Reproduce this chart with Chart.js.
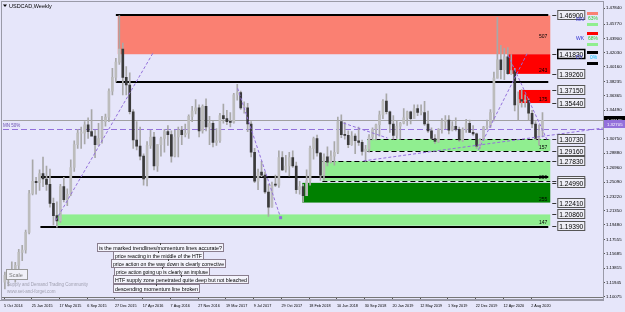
<!DOCTYPE html>
<html>
<head>
<meta charset="utf-8">
<script src="https://cdn.jsdelivr.net/npm/chart.js@4.4.1/dist/chart.umd.min.js"></script>
<style>
  html, body { margin: 0; padding: 0; background: #e6e6fa; }
  canvas { display: block; }
</style>
</head>
<body>
<canvas id="chart" width="625" height="312"></canvas>
<script>
// USDCAD weekly, two-week candles starting 5 Oct 2014
const opens = [
  1.1200,1.1290,1.1270,1.1320,1.1420,1.1590,1.1620,1.1850,1.2360,1.2520,
  1.2500,1.2620,1.2550,1.2480,1.2230,1.2070,1.2000,1.2450,1.2280,1.2350,
  1.2700,1.3000,1.3150,1.3150,1.3260,1.3170,1.3110,1.3000,1.3080,1.3300,
  1.3360,1.3700,1.3880,1.4080,1.4250,1.3880,1.3780,1.3430,1.3060,1.2980,
  1.2850,1.2550,1.2990,1.3100,1.2720,1.3000,1.3080,1.3170,1.3130,1.2850,
  1.3100,1.3190,1.3130,1.3150,1.3370,1.3440,1.3480,1.3180,1.3500,1.3230,
  1.3280,1.3030,1.3050,1.3380,1.3340,1.3300,1.3290,1.3650,1.3680,1.3480,
  1.3480,1.3270,1.2900,1.2520,1.2640,1.2600,1.2380,1.2180,1.2480,1.2470,
  1.2830,1.2670,1.2720,1.2830,1.2720,1.2410,1.2450,1.2330,1.2530,1.2950,
  1.3080,1.2890,1.2600,1.2840,1.2770,1.2850,1.2900,1.3300,1.3130,1.3120,
  1.3000,1.3110,1.3050,1.3030,1.2910,1.2940,1.3100,1.3200,1.3260,1.3390,
  1.3570,1.3430,1.3270,1.3120,1.3240,1.3280,1.3350,1.3430,1.3340,1.3470,
  1.3420,1.3420,1.3270,1.3180,1.3080,1.3040,1.3200,1.3300,1.3320,1.3190,
  1.3240,1.3200,1.3060,1.3200,1.3280,1.3160,1.3140,1.2980,1.3060,1.3230,
  1.3240,1.3420,1.3870,1.4110,1.3980,1.4150,1.3930,1.3970,1.3520,1.3590,
  1.3570,1.3580,1.3410,1.3270,1.3080,1.3180
];
const highs = [
  1.1330,1.1330,1.1465,1.1460,1.1630,1.1680,1.1880,1.2400,1.2800,1.2570,
  1.2670,1.2835,1.2720,1.2680,1.2300,1.2250,1.2480,1.2570,1.2420,1.2800,
  1.3050,1.3200,1.3230,1.3300,1.3350,1.3460,1.3190,1.3280,1.3370,1.3400,
  1.3730,1.4000,1.4130,1.4690,1.4330,1.4020,1.3940,1.3460,1.3300,1.3230,
  1.2880,1.3040,1.3190,1.3160,1.3000,1.3100,1.3200,1.3250,1.3180,1.3190,
  1.3230,1.3240,1.3270,1.3390,1.3500,1.3590,1.3520,1.3520,1.3600,1.3370,
  1.3300,1.3210,1.3410,1.3530,1.3450,1.3420,1.3670,1.3790,1.3700,1.3560,
  1.3540,1.3300,1.2950,1.2680,1.2780,1.2640,1.2480,1.2510,1.2600,1.2920,
  1.2910,1.2860,1.2900,1.2920,1.2770,1.2520,1.2480,1.2670,1.2980,1.3100,
  1.3125,1.2900,1.2880,1.2970,1.2920,1.3040,1.3360,1.3390,1.3290,1.3180,
  1.3170,1.3140,1.3230,1.3060,1.2990,1.3130,1.3220,1.3270,1.3440,1.3590,
  1.3665,1.3440,1.3380,1.3310,1.3290,1.3470,1.3440,1.3440,1.3520,1.3520,
  1.3520,1.3565,1.3440,1.3220,1.3130,1.3210,1.3340,1.3380,1.3380,1.3300,
  1.3350,1.3230,1.3220,1.3330,1.3320,1.3250,1.3150,1.3080,1.3240,1.3320,
  1.3460,1.3950,1.4667,1.4300,1.4260,1.4270,1.4180,1.4000,1.3690,1.3720,
  1.3650,1.3600,1.3450,1.3300,1.3260,1.3420
];
const lows = [
  1.1110,1.1150,1.1260,1.1200,1.1350,1.1480,1.1580,1.1830,1.2340,1.2350,
  1.2400,1.2450,1.2400,1.2180,1.1950,1.1920,1.1980,1.2250,1.2200,1.2330,
  1.2650,1.2950,1.2950,1.3010,1.3080,1.3150,1.2830,1.2990,1.3020,1.3240,
  1.3300,1.3650,1.3820,1.4050,1.3650,1.3650,1.3400,1.2950,1.2930,1.2800,
  1.2470,1.2460,1.2950,1.2670,1.2650,1.2850,1.2900,1.2990,1.2770,1.2840,
  1.2840,1.3000,1.3100,1.3080,1.3300,1.3400,1.3100,1.3150,1.3180,1.3000,
  1.2970,1.2990,1.3030,1.3280,1.3260,1.3230,1.3280,1.3580,1.3460,1.3410,
  1.3170,1.2840,1.2500,1.2410,1.2580,1.2360,1.2060,1.2180,1.2450,1.2440,
  1.2660,1.2640,1.2590,1.2700,1.2360,1.2350,1.2250,1.2330,1.2470,1.2810,
  1.2850,1.2530,1.2530,1.2720,1.2760,1.2730,1.2880,1.3090,1.3070,1.2960,
  1.2990,1.2880,1.2990,1.2860,1.2780,1.2900,1.3060,1.3060,1.3110,1.3340,
  1.3400,1.3160,1.3070,1.3080,1.3070,1.3270,1.3250,1.3270,1.3340,1.3380,
  1.3390,1.3250,1.3160,1.3070,1.3016,1.3030,1.3150,1.3210,1.3140,1.3180,
  1.3180,1.3040,1.3040,1.3160,1.3160,1.3120,1.2950,1.2950,1.3050,1.3200,
  1.3220,1.3310,1.3870,1.3860,1.3850,1.3920,1.3920,1.3440,1.3320,1.3490,
  1.3490,1.3320,1.3220,1.3060,1.2994,1.3100
];
const closes = [
  1.1290,1.1270,1.1320,1.1420,1.1590,1.1620,1.1850,1.2360,1.2520,1.2500,
  1.2620,1.2550,1.2480,1.2230,1.2070,1.2000,1.2450,1.2280,1.2350,1.2700,
  1.3000,1.3150,1.3150,1.3260,1.3170,1.3110,1.3000,1.3080,1.3300,1.3360,
  1.3700,1.3880,1.4080,1.4250,1.3880,1.3780,1.3430,1.3060,1.2980,1.2850,
  1.2550,1.2990,1.3100,1.2720,1.3000,1.3080,1.3170,1.3130,1.2850,1.3100,
  1.3190,1.3130,1.3150,1.3370,1.3440,1.3480,1.3180,1.3500,1.3230,1.3280,
  1.3030,1.3050,1.3380,1.3340,1.3300,1.3290,1.3650,1.3680,1.3480,1.3480,
  1.3270,1.2900,1.2520,1.2640,1.2600,1.2380,1.2180,1.2480,1.2470,1.2830,
  1.2670,1.2720,1.2830,1.2720,1.2410,1.2450,1.2330,1.2530,1.2950,1.3080,
  1.2890,1.2600,1.2840,1.2770,1.2850,1.2900,1.3300,1.3130,1.3120,1.3000,
  1.3110,1.3050,1.3030,1.2910,1.2940,1.3100,1.3200,1.3260,1.3390,1.3570,
  1.3430,1.3270,1.3120,1.3240,1.3280,1.3350,1.3430,1.3340,1.3470,1.3420,
  1.3420,1.3270,1.3180,1.3080,1.3040,1.3200,1.3300,1.3320,1.3190,1.3240,
  1.3200,1.3060,1.3200,1.3280,1.3160,1.3140,1.2980,1.3060,1.3230,1.3240,
  1.3420,1.3870,1.4110,1.3980,1.4150,1.3930,1.3970,1.3520,1.3590,1.3570,
  1.3580,1.3410,1.3270,1.3080,1.3180,1.33185
];

// time axis (weeks since 5 Oct 2014)
const xTickWeeks = [0,16,32,48,64,80,96,112,128,144,160,176,192,208,224,240,256,272,288,304];
const xTickLabels = ['5 Oct 2014','25 Jan 2015','17 May 2015','6 Sep 2015','27 Dec 2015','17 Apr 2016',
  '7 Aug 2016','27 Nov 2016','19 Mar 2017','9 Jul 2017','29 Oct 2017','18 Feb 2018','10 Jun 2018',
  '30 Sep 2018','20 Jan 2019','12 May 2019','1 Sep 2019','22 Dec 2019','12 Apr 2020','2 Aug 2020'];
const yTickLabels = ['1.47840','1.45770','1.43900','1.42030','1.40160','1.38235','1.36365','1.34490',
  '1.32620','1.30750','1.28880','1.26960','1.25090','1.23220','1.21350','1.19480','1.17555','1.15685',
  '1.13815','1.11945','1.10075'];

// supply / demand zones
const zoneScores = ['507','243','175','157','259','255','147'];
const zoneHigh = [1.46900,1.41830,1.37150,1.30730,1.27830,1.24990,1.20860];
const zoneLow  = [1.41830,1.39260,1.35440,1.29160,1.25260,1.22410,1.19390];
const zoneFromWeek = [65.6,290.7,297,209.6,183.6,172,30];
const zoneToWeek = 315;

// levels with price boxes at the right
const levelPrices = ['1.46900','1.41830','1.39260','1.37150','1.35440','1.30730','1.29160',
  '1.27830','1.25260','1.24990','1.22410','1.20860','1.19390'];
// plain horizontal lines
const hLinePrice = [1.46900,1.38170,1.25780,1.19260];
const hLineFromWeek = [64.5,64.5,21,21];
const dashedPrice = [1.30730,1.29160,1.27830,1.25260];
const dashedFromWeek = [209.6,209.6,183.6,183.6];

// trendlines (week, price)
const trendFrom = [[29.9,1.2009],[134.7,1.3738],[273.5,1.2930],[290.7,1.4168],[207.3,1.2787],[195.7,1.3282]];
const trendTo   = [[85.8,1.4195],[159.5,1.2043],[301.7,1.4195],[313.2,1.3060],[345.4,1.3217],[221.1,1.3086]];

const currentPrice = 1.33185;
const mn50Price = 1.3204;

const notes = ['is the marked trendlines/momentum lines accurate?','price reacting in the middle of the HTF',
  'price action on the way down is clearly corrective','price action going up is clearly an impluse',
  'HTF supply zone penetrated quite deep but not bleached','descending momentum line broken'];

const FONT = '"Liberation Sans", Arial, sans-serif';
const zoneColors = ['#fa8072','#ff0000','#ff0000','#90ee90','#90ee90','#008000','#90ee90'];
const notePos = [[97,248,126],[113,256,90],[111,264,114],[114,272,95],[113,280,135],[113,289,86]];

function fitText(ctx, text, x, y, width) {
  const w = ctx.measureText(text).width;
  ctx.save();
  ctx.translate(x, y);
  ctx.scale(width / w, 1);
  ctx.fillText(text, 0, 0);
  ctx.restore();
}

const objects = {
  id: 'objects',
  beforeDatasetsDraw(chart) {
    const { ctx, chartArea: a, scales: { x, y } } = chart;
    ctx.save();
    ctx.beginPath();
    ctx.rect(a.left, a.top, a.width, a.height);
    ctx.clip();

    // current price line
    const cy = Math.round(y.getPixelForValue(currentPrice)) + 0.5;
    ctx.strokeStyle = '#a0a0a0';
    ctx.lineWidth = 1;
    ctx.beginPath(); ctx.moveTo(a.left, cy); ctx.lineTo(a.right, cy); ctx.stroke();

    // zones
    const xEnd = x.getPixelForValue(zoneToWeek);
    zoneHigh.forEach((hi, i) => {
      const x0 = x.getPixelForValue(zoneFromWeek[i]);
      const y0 = y.getPixelForValue(hi), y1 = y.getPixelForValue(zoneLow[i]);
      ctx.fillStyle = zoneColors[i];
      ctx.fillRect(x0, y0, xEnd - x0, y1 - y0);
    });

    // dashed zone borders
    ctx.strokeStyle = '#000';
    ctx.setLineDash([5, 3]);
    dashedPrice.forEach((p, i) => {
      const py = Math.round(y.getPixelForValue(p)) + 0.5;
      ctx.beginPath(); ctx.moveTo(x.getPixelForValue(dashedFromWeek[i]), py); ctx.lineTo(xEnd, py); ctx.stroke();
    });
    ctx.setLineDash([]);

    // solid levels
    ctx.lineWidth = 2;
    hLinePrice.forEach((p, i) => {
      const py = Math.round(y.getPixelForValue(p));
      ctx.beginPath(); ctx.moveTo(x.getPixelForValue(hLineFromWeek[i]), py); ctx.lineTo(xEnd - 2, py); ctx.stroke();
    });

    // MN 50% line
    const my = Math.round(y.getPixelForValue(mn50Price)) + 0.5;
    ctx.lineWidth = 1;
    ctx.strokeStyle = '#9370db';
    ctx.setLineDash([6, 3]);
    ctx.beginPath(); ctx.moveTo(a.left, my); ctx.lineTo(a.right, my); ctx.stroke();
    ctx.setLineDash([]);
    ctx.restore();
  },
  afterDatasetsDraw(chart) {
    const { ctx, chartArea: a, scales: { x, y } } = chart;
    ctx.save();
    ctx.beginPath();
    ctx.rect(a.left, a.top, a.width, a.height);
    ctx.clip();

    // trendlines
    ctx.strokeStyle = '#9370db';
    ctx.lineWidth = 1;
    ctx.setLineDash([3, 2]);
    trendFrom.forEach((f, i) => {
      const t = trendTo[i];
      ctx.beginPath();
      ctx.moveTo(x.getPixelForValue(f[0]), y.getPixelForValue(f[1]));
      ctx.lineTo(x.getPixelForValue(t[0]), y.getPixelForValue(t[1]));
      ctx.stroke();
    });
    ctx.setLineDash([]);
    ctx.fillStyle = '#9370db';
    ctx.fillRect(x.getPixelForValue(trendTo[1][0]) - 1.5, y.getPixelForValue(trendTo[1][1]) - 1.5, 3, 3);

    // zone scores
    ctx.fillStyle = '#000';
    ctx.font = '5px ' + FONT;
    ctx.textAlign = 'right';
    ctx.textBaseline = 'alphabetic';
    const xEnd = x.getPixelForValue(zoneToWeek);
    zoneHigh.forEach((hi, i) => {
      const y0 = y.getPixelForValue(hi), y1 = y.getPixelForValue(zoneLow[i]);
      const ty = (y1 - y0) > 30 ? (y0 + y1) / 2 + 3 : y1 - 2;
      ctx.fillText(zoneScores[i], xEnd - 3, ty);
    });

    // price boxes
    ctx.textAlign = 'left';
    ctx.textBaseline = 'middle';
    levelPrices.forEach((s, i) => {
      const py = Math.round(y.getPixelForValue(parseFloat(s)));
      ctx.strokeStyle = '#333';
      ctx.lineWidth = 1;
      ctx.beginPath(); ctx.moveTo(xEnd + 2, py + 0.5); ctx.lineTo(xEnd + 6, py + 0.5); ctx.stroke();
      ctx.fillStyle = '#eeeef6';
      ctx.fillRect(xEnd + 7.5, py - 4.5, 27, 9);
      ctx.lineWidth = s === '1.41830' ? 1.5 : 1;
      ctx.strokeStyle = s === '1.41830' ? '#000' : '#555';
      ctx.strokeRect(xEnd + 7.5, py - 4.5, 27, 9);
      ctx.fillStyle = '#000';
      ctx.font = '8px ' + FONT;
      fitText(ctx, s, xEnd + 9, py + 0.5, 24);
    });

    // MN / WK / DY strength marks
    const lx = 587;
    ctx.fillStyle = '#fa8072'; ctx.fillRect(lx, 12, 11, 3);
    ctx.fillStyle = '#90ee90'; ctx.fillRect(lx, 23, 11, 3);
    ctx.fillStyle = '#ff0000'; ctx.fillRect(lx, 32, 11, 3);
    ctx.fillStyle = '#90ee90'; ctx.fillRect(lx, 43, 11, 3);
    ctx.fillStyle = '#000000'; ctx.fillRect(lx, 51, 11, 3);
    ctx.fillStyle = '#000000'; ctx.fillRect(lx, 62, 11, 3);
    ctx.font = '5px ' + FONT;
    ctx.textAlign = 'left';
    ctx.fillStyle = '#3030d0';
    ctx.fillText('MN', 576, 19.5); ctx.fillText('WK', 576, 38.5); ctx.fillText('DY', 576, 58);
    ctx.fillStyle = '#32cd32';
    ctx.fillText('63%', 588, 19); ctx.fillText('68%', 588, 38.5);
    ctx.fillStyle = '#00bfff';
    ctx.fillText('0%', 590, 58);

    // MN 50% tag
    ctx.fillStyle = '#6a4fb0';
    ctx.font = '4.5px ' + FONT;
    ctx.fillText('MN 50%', 3, y.getPixelForValue(mn50Price) - 3);

    // title
    ctx.fillStyle = '#000';
    ctx.font = '5.5px ' + FONT;
    ctx.fillText('USDCAD,Weekly', 9, 6);
    ctx.beginPath(); ctx.moveTo(3, 4.5); ctx.lineTo(7, 4.5); ctx.lineTo(5, 7); ctx.closePath(); ctx.fill();

    // notes
    notes.forEach((s, i) => {
      const [nx, ny, nw] = notePos[i];
      ctx.fillStyle = '#f4f4fc';
      ctx.fillRect(nx + 0.5, ny - 4.5, nw, 8);
      ctx.strokeStyle = '#8a7e8e';
      ctx.lineWidth = 1;
      ctx.strokeRect(nx + 0.5, ny - 4.5, nw, 8);
      ctx.fillStyle = '#444';
      ctx.fillRect(Math.round(nx + nw / 2), ny - 5, 1, 2);
      ctx.fillStyle = '#000';
      ctx.font = '5.5px ' + FONT;
      ctx.textBaseline = 'middle';
      fitText(ctx, s, nx + 2, ny, nw - 3);
    });

    // scale button and watermark
    ctx.fillStyle = '#f0f0f8';
    ctx.fillRect(6.5, 269.5, 21, 10);
    ctx.strokeStyle = '#999';
    ctx.strokeRect(6.5, 269.5, 21, 10);
    ctx.fillStyle = '#777';
    ctx.font = '5.5px ' + FONT;
    ctx.fillText('Scale', 9, 275);
    ctx.fillStyle = '#a0a0b0';
    ctx.font = '4.5px ' + FONT;
    ctx.fillText('Supply and Demand Trading Community', 7, 285);
    ctx.fillText('www.set-and-forget.com', 7, 292);
    ctx.restore();
  },
  afterDraw(chart) {
    const { ctx, chartArea: a, scales: { y } } = chart;
    ctx.save();
    // window frame
    ctx.strokeStyle = '#9a9aa8';
    ctx.lineWidth = 1;
    ctx.strokeRect(1.5, 1.5, a.right - 1, 298);
    ctx.beginPath(); ctx.moveTo(0, 300.5); ctx.lineTo(a.right + 1, 300.5); ctx.stroke();
    // axis price tags
    const cy = Math.round(y.getPixelForValue(currentPrice));
    ctx.fillStyle = '#000';
    ctx.fillRect(a.right + 1, cy - 4, 22, 8);
    ctx.fillStyle = '#fff';
    ctx.font = '4.3px ' + FONT;
    ctx.textBaseline = 'middle';
    ctx.fillText('1.33185', a.right + 4, cy + 0.5);
    const py = Math.round(y.getPixelForValue(1.3270));
    ctx.fillStyle = '#9370db';
    ctx.fillRect(a.right + 1, py - 4, 22, 8);
    ctx.fillStyle = '#fff';
    ctx.fillText('1.32705', a.right + 4, py + 0.5);
    ctx.restore();
  }
};

const weekPos = opens.map((_, i) => i * 2 + 0.5);
const wickData = weekPos.map((w, i) => ({ x: w, y: [lows[i], highs[i]] }));
const bodyData = weekPos.map((w, i) => ({ x: w, y: [opens[i], closes[i]] }));
const bodyColors = opens.map((o, i) => closes[i] >= o ? '#bcbcbc' : '#3a3a3a');

new Chart(document.getElementById('chart'), {
  type: 'bar',
  data: {
    datasets: [
      { label: 'range', data: wickData, backgroundColor: '#a8a8a8', barThickness: 1, grouped: false, order: 2 },
      { label: 'body', data: bodyData, backgroundColor: bodyColors, barThickness: 2, grouped: false, order: 1, minBarLength: 1 }
    ]
  },
  options: {
    responsive: false,
    animation: false,
    devicePixelRatio: 1,
    layout: { padding: { left: 2, top: 3, right: 0, bottom: 0 } },
    plugins: { legend: { display: false }, tooltip: { enabled: false } },
    scales: {
      x: {
        type: 'linear',
        min: -0.58,
        max: 345.4,
        offset: false,
        afterBuildTicks: s => { s.ticks = xTickWeeks.map(v => ({ value: v })); },
        afterFit: s => { s.height = 15; },
        grid: { offset: false, drawOnChartArea: false, tickLength: 3, color: '#555' },
        border: { color: '#777' },
        ticks: {
          autoSkip: false, maxRotation: 0, align: 'start', padding: 4,
          font: { size: 3.8, family: FONT }, color: '#000',
          callback: (v, i) => xTickLabels[i]
        }
      },
      y: {
        position: 'right',
        min: 1.1005,
        max: 1.4846,
        afterBuildTicks: s => { s.ticks = yTickLabels.map(t => ({ value: parseFloat(t) })); },
        afterFit: s => { s.width = 22; },
        grid: { drawOnChartArea: false, tickLength: 2, color: '#555' },
        border: { color: '#555' },
        ticks: {
          padding: 1, font: { size: 4.3, family: FONT }, color: '#000',
          callback: (v, i) => yTickLabels[i]
        }
      }
    }
  },
  plugins: [objects]
});
</script>
</body>
</html>
